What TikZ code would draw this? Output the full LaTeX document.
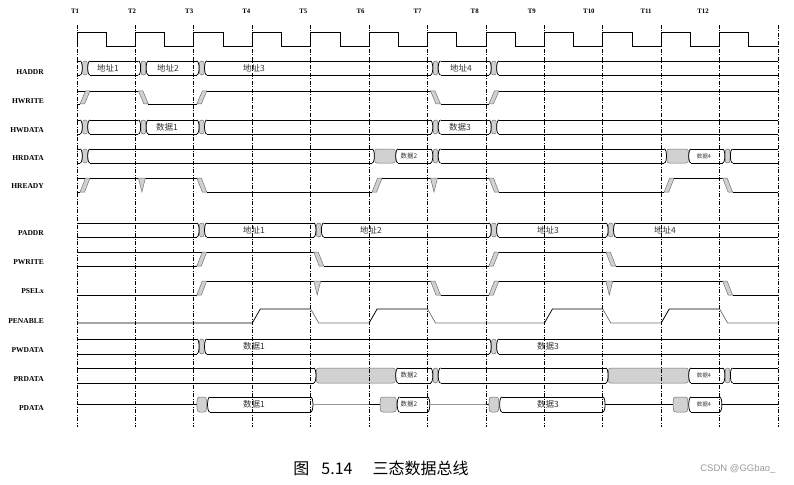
\documentclass[tikz,border=0pt]{standalone}
\usepackage{fontspec}
\setmainfont{Liberation Serif}
\newfontfamily\cjk{Noto Sans CJK SC}
\newfontfamily\wmark{Liberation Sans}

\begin{document}
\begin{tikzpicture}[x=1pt,y=-1pt,
  sig/.style={line width=0.75pt},
  hz/.style={line width=1.1pt,black!40},
  shade/.style={fill=black!18,draw=black!55,line width=0.5pt},
  gridl/.style={line width=0.75pt,dash pattern=on 4pt off 1.5pt on 1pt off 1.5pt},
  signame/.style={anchor=east,inner sep=0pt,font=\bfseries\fontsize{7.5}{9}\selectfont},
  tlabel/.style={inner sep=0pt,font=\bfseries\fontsize{6.8}{8}\selectfont},
  val/.style={inner sep=0pt,text=black!80,font=\cjk\fontsize{8.5}{10}\selectfont},
  valsm/.style={val,font=\cjk\fontsize{6.5}{8}\selectfont},
  valxs/.style={val,font=\cjk\fontsize{5.5}{7}\selectfont}]
  \useasboundingbox (0,0) rectangle (794,484);
  % bus lines, crossings, bands
  \newcommand{\bus}[4]{\draw[sig] (#1,#3) -- (#2,#3) (#1,#4) -- (#2,#4);}
  \newcommand{\busend}[3]{\draw[sig] (#1,#2) .. controls (#1+3,#2) and (#1+3,#3) .. (#1,#3);}
  \newcommand{\busgap}[4]{%
    \filldraw[shade] (#1+2.5,{(#3+#4)/2}) .. controls (#1+2.8,#3) .. (#1+5,#3)
      -- (#2-5,#3) .. controls (#2-2.8,#3) .. (#2-2.5,{(#3+#4)/2})
      .. controls (#2-2.8,#4) .. (#2-5,#4) -- (#1+5,#4)
      .. controls (#1+2.8,#4) .. (#1+2.5,{(#3+#4)/2}) -- cycle;
    \busend{#1}{#3}{#4}
    \draw[sig] (#2,#3) .. controls (#2-3,#3) and (#2-3,#4) .. (#2,#4);}
  \newcommand{\busx}[3]{\busgap{#1}{#1+10}{#2}{#3}}
  \newcommand{\pgap}[4]{%
    \filldraw[shade] (#1,{(#3+#4)/2}) .. controls (#1+0.5,#3) .. (#1+3,#3)
      -- (#2-3,#3) .. controls (#2-0.5,#3) .. (#2,{(#3+#4)/2})
      .. controls (#2-0.5,#4) .. (#2-3,#4) -- (#1+3,#4)
      .. controls (#1+0.5,#4) .. (#1,{(#3+#4)/2}) -- cycle;
    \draw[sig] (#2+3,#3) .. controls (#2,#3) and (#2,#4) .. (#2+3,#4);}
  \newcommand{\sigband}[3]{\filldraw[shade] (#1,#2) -- (#1+4.5,#2) -- (#1+10,#3) -- (#1+5.5,#3) -- cycle;}
  \newcommand{\sigdip}[3]{\filldraw[shade] (#1,#2) -- (#1+7,#2) -- (#1+3.5,#3) -- cycle;}

  % edge labels and signal names
  \foreach \k in {1,...,12}
    \node[tlabel] (T\k) at ({75+57.1*(\k-1)},11) {T\k};
  \foreach \s/\y in {HADDR/72.5,HWRITE/101.5,HWDATA/130.5,HRDATA/158.5,HREADY/186.5,
      PADDR/233,PWRITE/262.5,PSELx/291.5,PENABLE/321,PWDATA/350.5,PRDATA/379.5,PDATA/408.5}
    \node[signame] (\s) at (44,\y) {\s};

  % HCLK
  \foreach \k in {0,...,11}{
    \pgfmathsetmacro\xa{77+58.42*\k}
    \draw[sig] (\xa,46) -- (\xa,32) -- (\xa+29.21,32) -- (\xa+29.21,46) -- (\xa+58.42,46);
  }

  % HADDR
  \bus{77}{80}{61}{75} \busx{80}{61}{75}
  \bus{90}{138.4}{61}{75} \busx{138.4}{61}{75}
  \bus{148.4}{196.8}{61}{75} \busx{196.8}{61}{75}
  \bus{206.8}{430.5}{61}{75} \busx{430.5}{61}{75}
  \bus{440.5}{488.9}{61}{75} \busx{488.9}{61}{75}
  \bus{498.9}{778}{61}{75}
  \node[val] (ha1) at (108,68) {地址1};
  \node[val] (ha2) at (168,68) {地址2};
  \node[val] (ha3) at (254,68) {地址3};
  \node[val] (ha4) at (461,68) {地址4};

  % HWRITE
  \draw[sig] (77,91) -- (85.5,91) (77,104) -- (80,104);
  \sigband{80}{104}{91}
  \draw[sig] (90,91) -- (138.4,91);
  \sigband{138.4}{91}{104}
  \draw[sig] (148.4,104) -- (196.8,104);
  \sigband{196.8}{104}{91}
  \draw[sig] (206.8,91) -- (430.5,91);
  \sigband{430.5}{91}{104}
  \draw[sig] (440.5,104) -- (488.9,104);
  \sigband{488.9}{104}{91}
  \draw[sig] (498.9,91) -- (778,91);

  % HWDATA
  \bus{77}{80}{120}{134} \busx{80}{120}{134}
  \bus{90}{138.4}{120}{134} \busx{138.4}{120}{134}
  \bus{148.4}{196.8}{120}{134} \busx{196.8}{120}{134}
  \bus{206.8}{430.5}{120}{134} \busx{430.5}{120}{134}
  \bus{440.5}{488.9}{120}{134} \busx{488.9}{120}{134}
  \bus{498.9}{778}{120}{134}
  \node[val] (hw1) at (167,127) {数据1};
  \node[val] (hw3) at (460,127) {数据3};

  % HRDATA
  \bus{77}{80}{149}{163} \busx{80}{149}{163}
  \bus{90}{372.1}{149}{163} \busgap{372.1}{398}{149}{163}
  \bus{398}{430.5}{149}{163} \busx{430.5}{149}{163}
  \bus{440.5}{664.2}{149}{163} \busgap{664.2}{691}{149}{163}
  \bus{691}{722.6}{149}{163} \busx{722.6}{149}{163}
  \bus{732.6}{778}{149}{163}
  \node[valsm] (hr2) at (409,156) {数据2};
  \node[valxs] (hr4) at (704,156) {数据4};

  % HREADY
  \draw[sig] (77,178) -- (85.5,178) (77,192) -- (80,192);
  \sigband{80}{192}{178}
  \draw[sig] (90,178) -- (196.8,178);
  \sigdip{138.4}{178}{192}
  \sigband{196.8}{178}{192}
  \draw[sig] (206.8,192) -- (372.1,192);
  \sigband{372.1}{192}{178}
  \draw[sig] (382.1,178) -- (488.9,178);
  \sigdip{430.5}{178}{192}
  \sigband{488.9}{178}{192}
  \draw[sig] (498.9,192) -- (664.2,192);
  \sigband{664.2}{192}{178}
  \draw[sig] (674.2,178) -- (722.6,178);
  \sigband{722.6}{178}{192}
  \draw[sig] (732.6,192) -- (778,192);

  % PADDR
  \bus{77}{196.8}{223}{237} \busx{196.8}{223}{237}
  \bus{206.8}{313.7}{223}{237} \busx{313.7}{223}{237}
  \bus{323.7}{488.9}{223}{237} \busx{488.9}{223}{237}
  \bus{498.9}{605.8}{223}{237} \busx{605.8}{223}{237}
  \bus{615.8}{778}{223}{237}
  \node[val] (pa1) at (254,230) {地址1};
  \node[val] (pa2) at (371,230) {地址2};
  \node[val] (pa3) at (548,230) {地址3};
  \node[val] (pa4) at (665,230) {地址4};

  % PWRITE
  \draw[sig] (77,252) -- (202.3,252) (77,266) -- (196.8,266);
  \sigband{196.8}{266}{252}
  \draw[sig] (206.8,252) -- (313.7,252);
  \sigband{313.7}{252}{266}
  \draw[sig] (323.7,266) -- (488.9,266);
  \sigband{488.9}{266}{252}
  \draw[sig] (498.9,252) -- (605.8,252);
  \sigband{605.8}{252}{266}
  \draw[sig] (615.8,266) -- (778,266);

  % PSELx
  \draw[sig] (77,295) -- (196.8,295);
  \sigband{196.8}{295}{281}
  \draw[sig] (206.8,281) -- (430.5,281);
  \sigdip{313.7}{281}{295}
  \sigband{430.5}{281}{295}
  \draw[sig] (440.5,295) -- (488.9,295);
  \sigband{488.9}{295}{281}
  \draw[sig] (498.9,281) -- (722.6,281);
  \sigdip{605.8}{281}{295}
  \sigband{722.6}{281}{295}
  \draw[sig] (732.6,295) -- (778,295);

  % PENABLE
  \draw[sig] (77,323) -- (252.3,323) -- (260.3,309) -- (310.7,309);
  \draw[sig,black!55] (310.7,309) -- (318.7,323) -- (369.1,323);
  \draw[sig] (369.1,323) -- (377.1,309) -- (427.5,309);
  \draw[sig,black!55] (427.5,309) -- (435.5,323) -- (544.4,323);
  \draw[sig] (544.4,323) -- (552.4,309) -- (602.8,309);
  \draw[sig,black!55] (602.8,309) -- (610.8,323) -- (661.2,323);
  \draw[sig] (661.2,323) -- (669.2,309) -- (719.6,309);
  \draw[sig,black!55] (719.6,309) -- (727.6,323) -- (778,323);

  % PWDATA
  \bus{77}{196.8}{339}{354} \busx{196.8}{339}{354}
  \bus{206.8}{488.9}{339}{354} \busx{488.9}{339}{354}
  \bus{498.9}{778}{339}{354}
  \node[val] (pw1) at (254,346) {数据1};
  \node[val] (pw3) at (548,346) {数据3};

  % PRDATA
  \bus{77}{313.7}{368}{383} \busgap{313.7}{398}{368}{383}
  \bus{398}{430.5}{368}{383} \busx{430.5}{368}{383}
  \bus{440.5}{605.8}{368}{383} \busgap{605.8}{691}{368}{383}
  \bus{691}{722.6}{368}{383} \busx{722.6}{368}{383}
  \bus{732.6}{778}{368}{383}
  \node[valsm] (pr2) at (409,375.5) {数据2};
  \node[valxs] (pr4) at (704,375.5) {数据4};

  % PDATA
  \draw[sig] (77,404.5) -- (196.8,404.5);
  \pgap{196.8}{206.8}{397}{412}
  \bus{209.8}{310.7}{397}{412} \busend{310.7}{397}{412}
  \draw[hz] (313,404.5) -- (369.1,404.5);
  \draw[sig] (369.1,404.5) -- (380,404.5);
  \pgap{380}{396.5}{397}{412}
  \bus{399.5}{427.5}{397}{412} \busend{427.5}{397}{412}
  \draw[hz] (430,404.5) -- (485.9,404.5);
  \draw[sig] (485.9,404.5) -- (488.9,404.5);
  \pgap{488.9}{498.9}{397}{412}
  \bus{501.9}{602.8}{397}{412} \busend{602.8}{397}{412}
  \draw[sig] (605,404.5) -- (673,404.5);
  \pgap{673}{688}{397}{412}
  \bus{691}{719.6}{397}{412} \busend{719.6}{397}{412}
  \draw[sig] (722,404.5) -- (778,404.5);
  \node[val] (pd1) at (254,404.5) {数据1};
  \node[valsm] (pd2) at (409,404.5) {数据2};
  \node[val] (pd3) at (548,404.5) {数据3};
  \node[valxs] (pd4) at (704,404.5) {数据4};

  % clock edges
  \foreach \k in {0,...,12}
    \draw[gridl] ({77+58.42*\k},25) -- ({77+58.42*\k},427);

  % caption
  \node[font=\cjk\fontsize{16}{18}\selectfont] (title) at (381,468)
    {图\hspace{12pt}5.14\hspace{20pt}三态数据总线};
  \node[font=\wmark\fontsize{9.5}{11}\selectfont,text=black!40,anchor=east] (mark) at (779,469) {CSDN @GGbao\_};
\end{tikzpicture}
\end{document}
